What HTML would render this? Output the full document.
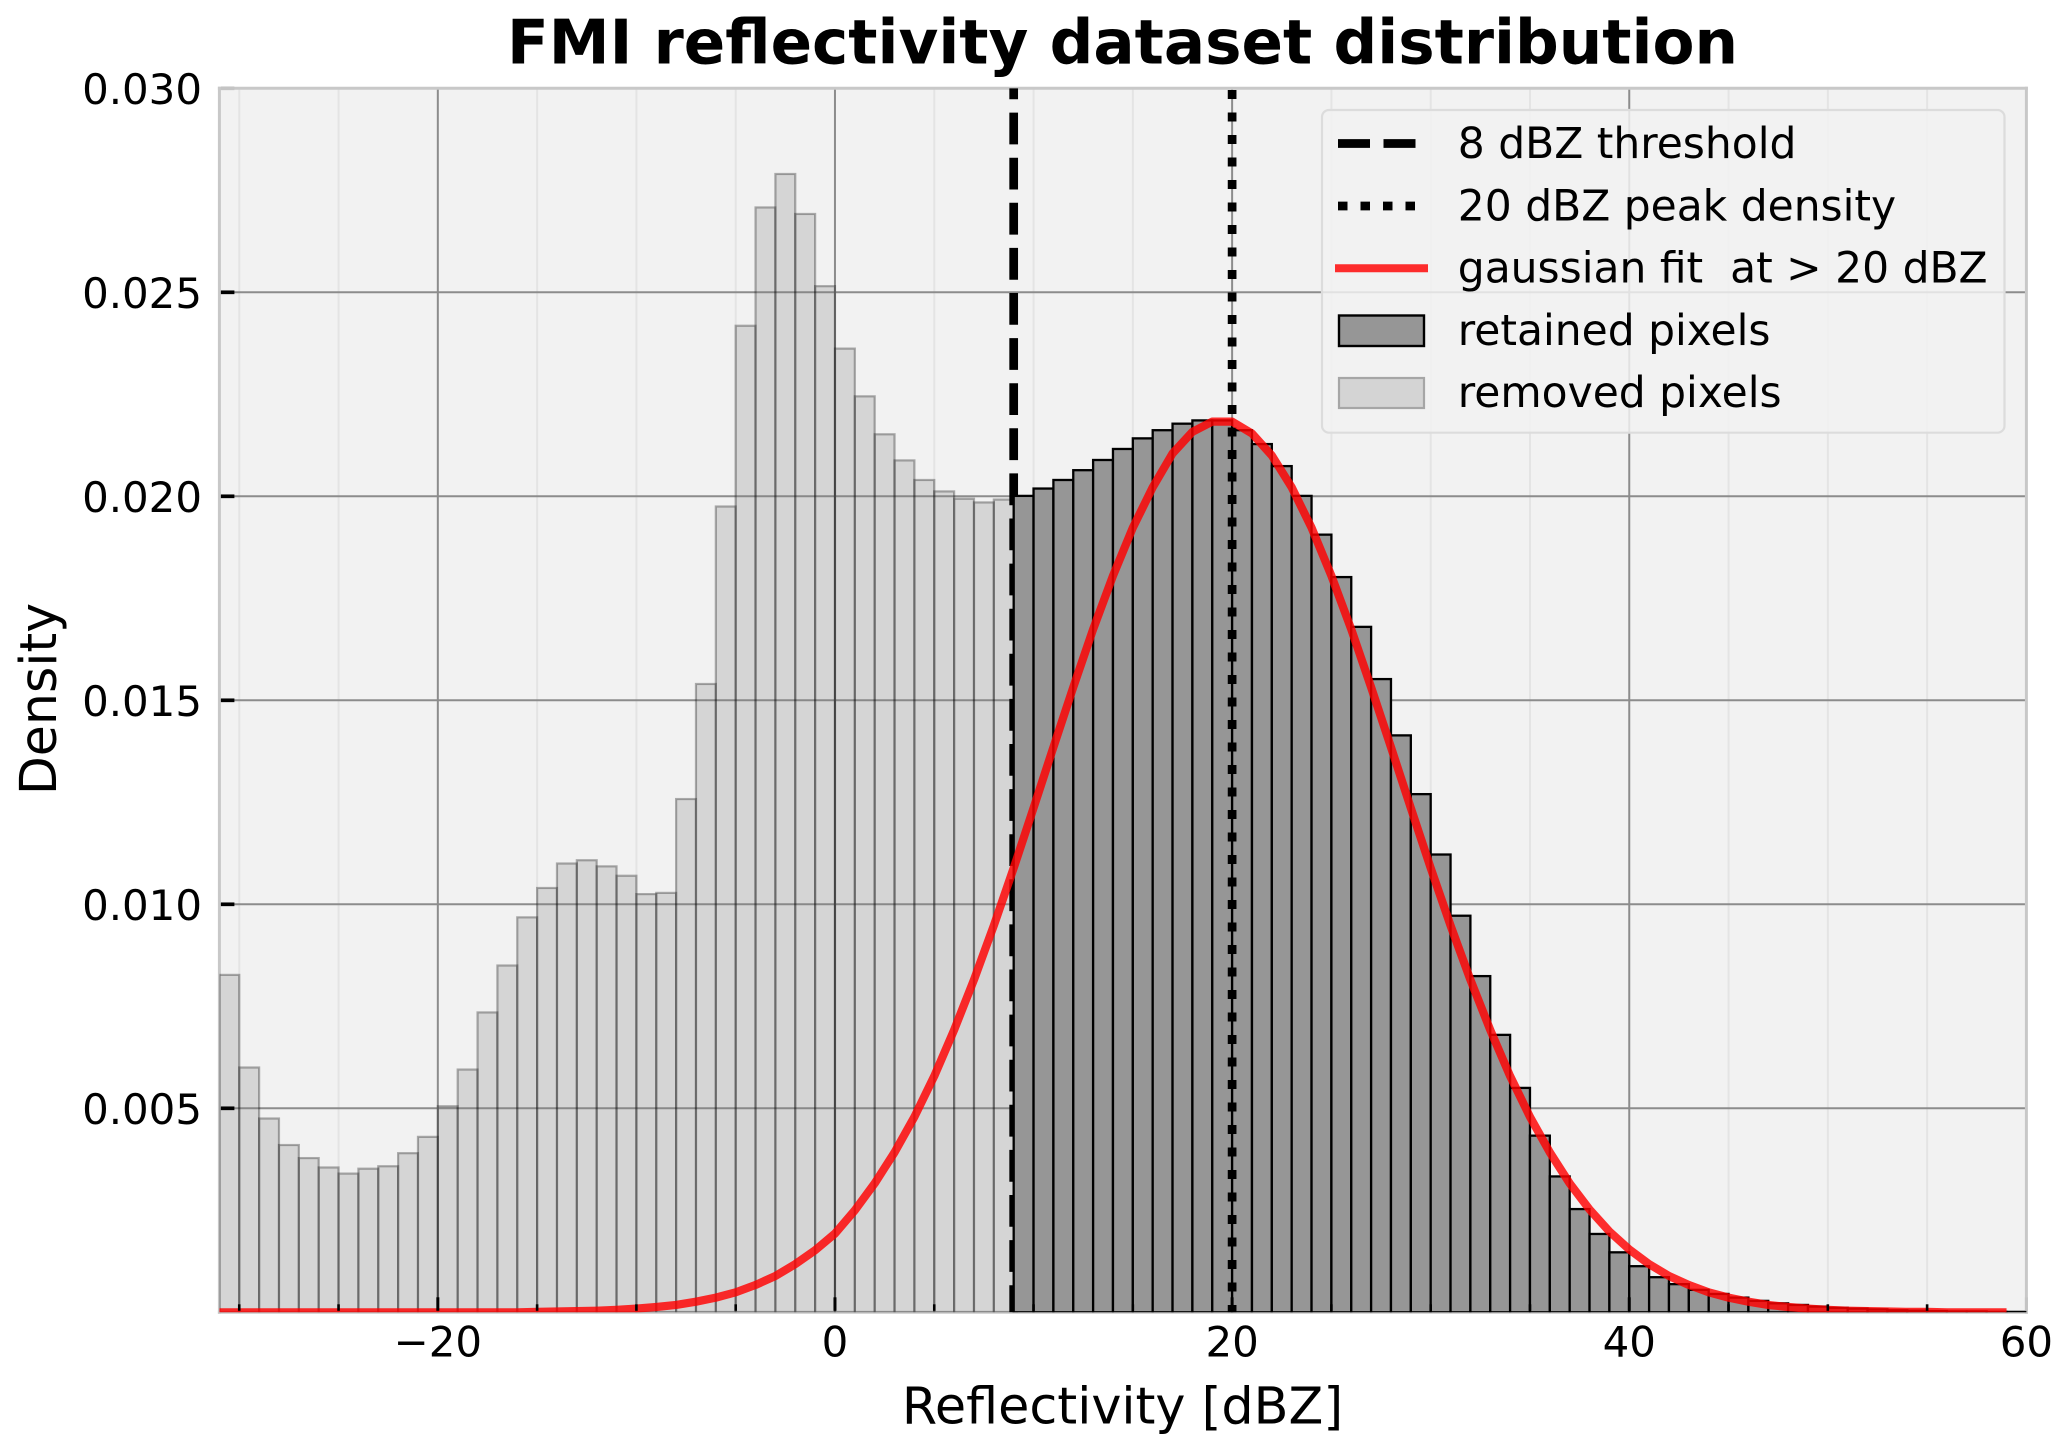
<!DOCTYPE html>
<html lang="en">
<head>
<meta charset="utf-8">
<title>FMI reflectivity dataset distribution</title>
<style>
  html, body { margin: 0; padding: 0; background: #ffffff; }
  #chart { display: block; width: 2067px; height: 1452px; }
  text { font-family: "DejaVu Sans", "Liberation Sans", sans-serif; fill: #000000; }
</style>
</head>
<body>
<svg id="chart" xmlns="http://www.w3.org/2000/svg" width="2067" height="1452" viewBox="0 0 2067 1452">
  <rect x="0" y="0" width="2067" height="1452" fill="#ffffff"/>
  <text x="1122.5" y="63.3" text-anchor="middle" font-size="61.15" font-weight="700">FMI reflectivity dataset distribution</text>
  <text x="1122.5" y="1423.3" text-anchor="middle" font-size="50.8">Reflectivity [dBZ]</text>
  <text transform="translate(56 699) rotate(-90)" text-anchor="middle" font-size="50.6">Density</text>
  <g id="plot"></g>
  <g id="legend">
    <rect x="1322" y="110" width="682.5" height="322.7" rx="7" ry="7" fill="#f2f2f2" fill-opacity="0.84" stroke="#dcdcdc" stroke-width="2.2"/>
    <g>
      <line x1="1338" y1="143.5" x2="1416" y2="143.5" stroke="#000000" stroke-width="8.7" stroke-dasharray="32 13.5"/>
      <text x="1457.8" y="158" font-size="42.4">8 dBZ threshold</text>
    </g>
    <g>
      <line x1="1338" y1="206" x2="1416" y2="206" stroke="#000000" stroke-width="8.7" stroke-dasharray="9.5 13"/>
      <text x="1457.8" y="220.4" font-size="42.4">20 dBZ peak density</text>
    </g>
    <g>
      <line x1="1335" y1="268.3" x2="1428" y2="268.3" stroke="#ff0000" stroke-opacity="0.82" stroke-width="8"/>
      <text x="1457.8" y="282.6" font-size="42.4" xml:space="preserve">gaussian fit  at &gt; 20 dBZ</text>
    </g>
    <g>
      <rect x="1339" y="315.5" width="85" height="30.5" fill="#969696" stroke="#000000" stroke-width="2.4"/>
      <text x="1457.8" y="345" font-size="42.4">retained pixels</text>
    </g>
    <g>
      <rect x="1339" y="378" width="85" height="30" fill="#d4d4d4" stroke="#a6a6a6" stroke-width="2.2"/>
      <text x="1457.8" y="407.2" font-size="42.4">removed pixels</text>
    </g>
  </g>
</svg>
<script>
// ---------- chart data ----------
var xTicks = [-20, 0, 20, 40, 60];
var xMinorTicks = [-30, -25, -15, -10, -5, 5, 10, 15, 25, 30, 35, 45, 50, 55];
var yTicks = [0.005, 0.010, 0.015, 0.020, 0.025, 0.030];
var yTickLabels = ["0.005", "0.010", "0.015", "0.020", "0.025", "0.030"];

var removedFirstBin = -31;
var removedDensity = [
  0.00827, 0.00600, 0.00475, 0.00410, 0.00378, 0.00355, 0.00340, 0.00352, 0.00358, 0.00390,
  0.00430, 0.00505, 0.00595, 0.00735, 0.00850, 0.00968, 0.01040, 0.01100, 0.01108, 0.01093,
  0.01070, 0.01025, 0.01028, 0.01258, 0.01540, 0.01975, 0.02418, 0.02708, 0.02790, 0.02692,
  0.02515, 0.02362, 0.02245, 0.02152, 0.02088, 0.02040, 0.02012, 0.01994, 0.01985, 0.01992
];

var retainedFirstBin = 9;
var retainedDensity = [
  0.02001, 0.02019, 0.02040, 0.02064, 0.02089, 0.02116, 0.02142, 0.02162, 0.02178, 0.02186,
  0.02186, 0.02162, 0.02128, 0.02074, 0.02001, 0.01906, 0.01802, 0.01680, 0.01552, 0.01414,
  0.01270, 0.01122, 0.00972, 0.00824, 0.00680, 0.00550, 0.00433, 0.00333, 0.00253, 0.00192,
  0.00147, 0.00113, 0.00086, 0.00069, 0.00055, 0.00045, 0.00036, 0.00028, 0.00022, 0.00018,
  0.00014, 0.00011, 0.00009, 0.00007, 0.00005, 0.00004, 0.00003, 0.00002, 0.00002, 0.00001,
  0.00001
];

var fitFirstX = -31;
var fitDensity = [
  0, 0, 0, 0, 0, 0, 0, 0, 0, 0,
  0, 0, 0, 0, 0, 0, 0.00001, 0.00002, 0.00003, 0.00004,
  0.00006, 0.00009, 0.00013, 0.00018, 0.00026, 0.00036, 0.00049, 0.00067, 0.00089, 0.00118,
  0.00152, 0.00193, 0.00250, 0.00316, 0.00392, 0.00479, 0.00579, 0.00692, 0.00815, 0.00948,
  0.01089, 0.01236, 0.01385, 0.01532, 0.01674, 0.01805, 0.01923, 0.02022, 0.02105, 0.02158,
  0.02183, 0.02183, 0.02154, 0.02100, 0.02022, 0.01923, 0.01805, 0.01674, 0.01532, 0.01385,
  0.01236, 0.01089, 0.00948, 0.00815, 0.00692, 0.00579, 0.00479, 0.00392, 0.00316, 0.00252,
  0.00198, 0.00154, 0.00118, 0.00089, 0.00067, 0.00049, 0.00036, 0.00026, 0.00018, 0.00013,
  0.00009, 0.00006, 0.00004, 0.00003, 0.00002, 0.00001, 0.00001, 0, 0, 0, 0
];

var thresholdDbz = [9];
var peakDbz = [20];
var xDomain = [-31, 60];
var yDomain = [0, 0.03];

// ---------- axis functions ----------
var plotLeft = 219.4, plotRight = 2026.4, plotTop = 88.3, plotBottom = 1312.3;
function xScale(v) { return plotLeft + (v - xDomain[0]) / (xDomain[1] - xDomain[0]) * (plotRight - plotLeft); }
function yScale(v) { return plotBottom - (v - yDomain[0]) / (yDomain[1] - yDomain[0]) * (plotBottom - plotTop); }

var NS = 'http://www.w3.org/2000/svg';
var plot = document.getElementById('plot');
function make(tag, attrs, parent) {
  var el = document.createElementNS(NS, tag);
  for (var k in attrs) { el.setAttribute(k, attrs[k]); }
  (parent || plot).appendChild(el);
  return el;
}

var defs = make('defs', {});
var clip = make('clipPath', { id: 'axes-clip' }, defs);
make('rect', { x: plotLeft, y: plotTop, width: plotRight - plotLeft, height: plotBottom - plotTop }, clip);

var face = make('rect', { x: plotLeft, y: plotTop, width: plotRight - plotLeft, height: plotBottom - plotTop, fill: '#f2f2f2' });



// minor grid
xMinorTicks.forEach(function (t) {
  var g = make('line', { x1: xScale(t), x2: xScale(t), y1: plotTop, y2: plotBottom, stroke: '#e4e4e4', 'stroke-width': 2 });
  
  
});
// major grid
xTicks.forEach(function (t) {
  if (t === xDomain[1]) { return; }
  var g = make('line', { x1: xScale(t), x2: xScale(t), y1: plotTop, y2: plotBottom, stroke: '#8c8c8c', 'stroke-width': 2 });
  
  
});
yTicks.forEach(function (t) {
  if (t === yDomain[1]) { return; }
  var g = make('line', { x1: plotLeft, x2: plotRight, y1: yScale(t), y2: yScale(t), stroke: '#8c8c8c', 'stroke-width': 2 });
  
  
});

// spines sit under the marks, so the fit line keeps its full half-width at the baseline
[[plotLeft, plotTop, plotRight, plotTop], [plotRight, plotTop, plotRight, plotBottom],
 [plotLeft, plotBottom, plotRight, plotBottom], [plotLeft, plotTop, plotLeft, plotBottom]].forEach(function (s) {
  var sp = make('line', { x1: s[0], y1: s[1], x2: s[2], y2: s[3], stroke: '#c8c8c8', 'stroke-width': 3, 'stroke-linecap': 'square' });
  
  
});

var clipped = make('g', { 'clip-path': 'url(#axes-clip)' });



// removed pixels histogram
removedDensity.forEach(function (v, i) {
  var b = removedFirstBin + i;
  var bar = make('rect', {
    x: xScale(b), y: yScale(v), width: xScale(b + 1) - xScale(b), height: yScale(0) - yScale(v),
    fill: '#808080', 'fill-opacity': 0.25, stroke: '#000000', 'stroke-opacity': 0.3, 'stroke-width': 2.2
  }, clipped);
  
  
});

// threshold line
thresholdDbz.forEach(function (t) {
  var l = make('line', {
    x1: xScale(t), x2: xScale(t), y1: yScale(yDomain[1]), y2: yScale(yDomain[0]),
    stroke: '#000000', 'stroke-width': 8.7, 'stroke-dasharray': '31.8 13.3', 'stroke-dashoffset': 20.8
  }, clipped);
  
  
});

// retained pixels histogram
retainedDensity.forEach(function (v, i) {
  var b = retainedFirstBin + i;
  var bar = make('rect', {
    x: xScale(b), y: yScale(v), width: xScale(b + 1) - xScale(b), height: yScale(0) - yScale(v),
    fill: '#969696', stroke: '#000000', 'stroke-width': 2.3
  }, clipped);
  
  
});

// peak line
peakDbz.forEach(function (t) {
  var l = make('line', {
    x1: xScale(t), x2: xScale(t), y1: yScale(yDomain[1]), y2: yScale(yDomain[0]),
    stroke: '#000000', 'stroke-width': 8.7, 'stroke-dasharray': '9 13.5', 'stroke-dashoffset': 20.8
  }, clipped);
  
  
});

// gaussian fit
var fitPts = fitDensity.map(function (v, i) {
  return xScale(fitFirstX + i).toFixed(2) + ',' + yScale(v).toFixed(2);
}).join(' ');
var fit = make('polyline', {
  points: fitPts, fill: 'none', stroke: '#ff0000', 'stroke-opacity': 0.82, 'stroke-width': 8.2, 'stroke-linejoin': 'round'
}, clipped);



// y ticks and labels
yTicks.forEach(function (t, i) {
  var edge = t === yDomain[1];
  var tk = make('line', {
    x1: plotLeft + 1.5, x2: plotLeft + 15, y1: yScale(t), y2: yScale(t),
    stroke: edge ? '#c4c4c4' : '#000000', 'stroke-width': 3.7
  });
  
  
  var lb = make('text', { x: 202, y: yScale(t) + 15.8, 'text-anchor': 'end', 'font-size': 41.9 });
  
  
  lb.textContent = yTickLabels[i];
});

// x ticks and labels
xTicks.forEach(function (t) {
  var edge = t === xDomain[1];
  var tk = make('line', {
    x1: xScale(t), x2: xScale(t), y1: plotBottom - 1.5, y2: plotBottom - 15,
    stroke: edge ? '#c4c4c4' : '#000000', 'stroke-width': 3
  });
  
  
  var lb = make('text', { x: xScale(t), y: 1356.6, 'text-anchor': 'middle', 'font-size': 41.9 });
  
  
  lb.textContent = String(t).replace('-', '\u2212');
});
xMinorTicks.forEach(function (t) {
  var tk = make('line', {
    x1: xScale(t), x2: xScale(t), y1: plotBottom - 1.5, y2: plotBottom - 8,
    stroke: '#000000', 'stroke-width': 2.6
  });
  
  
});
</script>
</body>
</html>
